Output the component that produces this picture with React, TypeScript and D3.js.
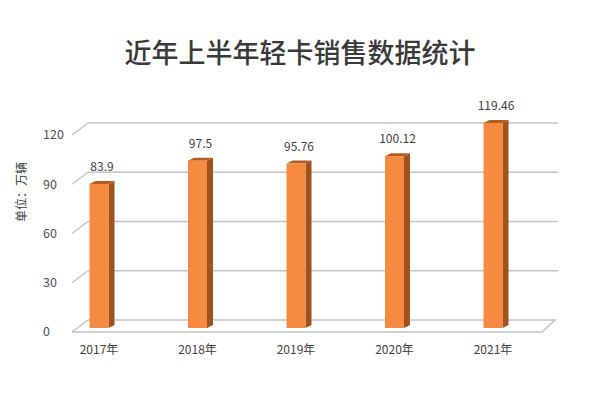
import React from "react";
import * as d3 from "d3";

const title = "近年上半年轻卡销售数据统计";
const yAxisTitle = "单位：万辆";
const categories = ["2017年", "2018年", "2019年", "2020年", "2021年"];
const values = [83.9, 97.5, 95.76, 100.12, 119.46];
const valueLabels = ["83.9", "97.5", "95.76", "100.12", "119.46"];
const yTicks = [0, 30, 60, 90, 120];

const W = 600;
const H = 399;
const FONT = "'Noto Sans CJK SC', 'Noto Sans', sans-serif";

export default function App() {
  const yFront = d3.scaleLinear().domain([0, 120]).range([332, 135]);
  const yBack = d3.scaleLinear().domain([0, 120]).range([320, 123]);
  const yBar = d3.scaleLinear().domain([0, 120]).range([328, 122]);
  const x = d3.scalePoint<string>().domain(categories).range([99, 493]);

  const wallLeft = 88;
  const wallRight = 558;
  const floorFrontLeft = 72;
  const floorFrontRight = 542;
  const floorBackRight = 555;

  const barW = 19;
  const dx = 6;
  const dy = 3;

  return (
    <svg
      width={W}
      height={H}
      style={{ position: "absolute", left: 0, top: 0, background: "#fff" }}
      fontFamily={FONT}
    >
      <rect x={0} y={0} width={W} height={H} fill="#fff" />
      <text x={300} y={63} textAnchor="middle" fontSize={27} fontWeight={500} fill="#3a3a3a">
        {title}
      </text>

      {yTicks.filter((t) => t > 0).map((t) => (
        <line key={"g" + t} x1={wallLeft} x2={wallRight} y1={yBack(t)} y2={yBack(t)} stroke="#c4c4c4" strokeWidth={1.5} />
      ))}
      {yTicks.map((t) => (
        <line key={"s" + t} x1={floorFrontLeft} y1={yFront(t)} x2={wallLeft} y2={yBack(t)} stroke="#c4c4c4" strokeWidth={1.5} />
      ))}
      <path
        d={`M${floorFrontLeft},${yFront(0)} L${floorFrontRight},${yFront(0)} L${floorBackRight},${yBack(0)} L${wallLeft},${yBack(0)}`}
        fill="none"
        stroke="#c4c4c4"
        strokeWidth={1.5}
      />

      {yTicks.map((t) => (
        <text key={"t" + t} x={43} y={yFront(t)} dy="0.35em" fontSize={12.5} fill="#505050">
          {t}
        </text>
      ))}

      <text
        transform={`translate(22,192) rotate(-90)`}
        textAnchor="middle"
        dy="0.35em"
        fontSize={12}
        fill="#404040"
      >
        {yAxisTitle}
      </text>

      {categories.map((c, i) => {
        const cx = x(c) as number;
        const x0 = cx - barW / 2;
        const x1 = cx + barW / 2;
        const top = yBar(values[i]);
        const bottom = yBar(0);
        return (
          <g key={c}>
            <polygon
              points={`${x1},${top} ${x1 + dx},${top - dy} ${x1 + dx},${bottom - dy} ${x1},${bottom}`}
              fill="#a0521a"
            />
            <polygon
              points={`${x0},${top} ${x0 + dx},${top - dy} ${x1 + dx},${top - dy} ${x1},${top}`}
              fill="#b35c1e"
            />
            <rect x={x0} y={top} width={barW} height={bottom - top} fill="#f78a42" />
            <text x={cx + 3} y={top - 13} textAnchor="middle" fontSize={12} fill="#404040">
              {valueLabels[i]}
            </text>
            <text x={cx} y={354} textAnchor="middle" fontSize={12} fill="#404040">
              {c}
            </text>
          </g>
        );
      })}
    </svg>
  );
}
